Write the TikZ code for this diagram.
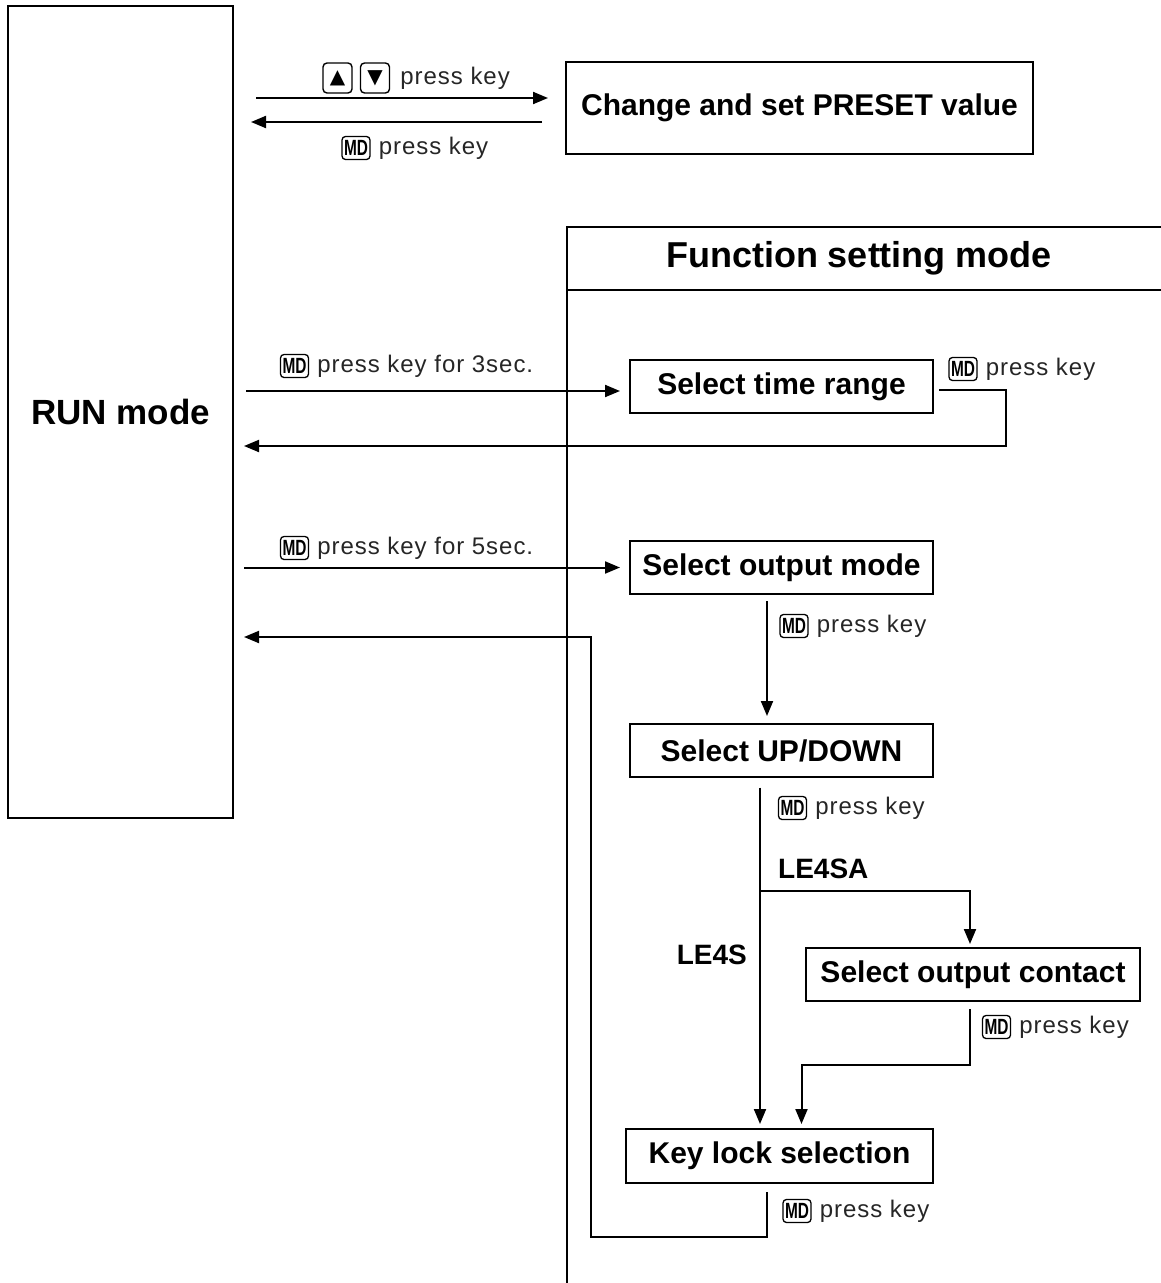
\documentclass[tikz,border=0pt]{standalone}
\usepackage{fontspec}
\setmainfont{Liberation Sans}
\newfontfamily\symfont{DejaVu Sans}
\newfontfamily\notefont[LetterSpace=4]{Liberation Sans}
\usetikzlibrary{arrows.meta,positioning}
\newcommand{\mdtxt}{\scalebox{0.7}[1]{\fontsize{22}{22}\selectfont\bfseries MD}}

\begin{document}
\begin{tikzpicture}[x=1pt,y=-1pt,
  box/.style={draw, line width=2pt, inner sep=0pt, font=\fontsize{30}{36}\selectfont\bfseries},
  note/.style={inner sep=0pt, text=black!85, font=\notefont\fontsize{24}{28}\selectfont},
  tag/.style={inner sep=0pt, font=\fontsize{28}{32}\selectfont\bfseries},
  mdkey/.style={draw, rounded corners=3.5pt, line width=1.3pt, minimum width=28pt, minimum height=23pt, inner sep=0pt},
  arrkey/.style={draw, rounded corners=4pt, line width=1.4pt, minimum width=29pt, minimum height=30pt, inner sep=0pt, font=\symfont\fontsize{20}{20}\selectfont},
  wire/.style={line width=2pt},
  arr/.style={wire, -{Triangle[length=15pt,width=12pt]}}]
\useasboundingbox (0,0) rectangle (1160,1283);

\node[box, minimum width=225pt, minimum height=812pt, font=\fontsize{35}{40}\selectfont\bfseries] (run) at (120.5,412) {RUN mode};
\node[box, minimum width=467pt, minimum height=92pt] (preset) at (799.5,108) {Change and set PRESET value};

\draw[wire] (567,1290) -- (567,227) -- (1165,227);
\draw[wire] (567,290) -- (1165,290);
\node[inner sep=0pt, font=\fontsize{36}{40}\selectfont\bfseries] (fsm) at (859,258) {Function setting mode};

\node[box, minimum width=303pt, minimum height=53pt] (timerange) at (781.5,386.5) {Select time range};
\node[box, minimum width=303pt, minimum height=53pt] (outmode) at (781.5,567.5) {Select output mode};
\node[box, minimum width=303pt, minimum height=53pt] (updown) at (781.5,750.5) {Select UP/DOWN};
\node[box, minimum width=334pt, minimum height=53pt] (contact) at (973,974.5) {Select output contact};
\node[box, minimum width=307pt, minimum height=54pt] (keylock) at (779.5,1156) {Key lock selection};

\draw[arr, shorten <=22pt, shorten >=17pt] ([yshift=10pt]preset.west -| run.east) -- ([yshift=10pt]preset.west);
\draw[arr, shorten <=23pt, shorten >=17pt] ([yshift=-14pt]preset.west) -- ([yshift=-14pt]preset.west -| run.east);

\node[arrkey] (kup) at (337.5,78) {▲};
\node[arrkey] (kdown) at (375,78) {▼};
\node[note, right=10pt of kdown] (n1) {press key};
\node[mdkey] (k2) at (356,148) {\mdtxt};
\node[note, right=8pt of k2] (n2) {press key};

\draw[arr, shorten <=12pt, shorten >=9pt] ([yshift=-4.5pt]timerange.west -| run.east) -- ([yshift=-4.5pt]timerange.west);
\node[mdkey] (k3) at (294.5,366) {\mdtxt};
\node[note, right=8pt of k3] (n3) {press key for 3sec.};
\draw[arr, shorten >=10pt] ([xshift=5pt,yshift=-3.5pt]timerange.east) -- ++(67,0) |- (run.east |- 0,446);
\node[mdkey] (k5) at (963,369) {\mdtxt};
\node[note, right=8pt of k5] (n5) {press key};

\draw[arr, shorten <=10pt, shorten >=9pt] (outmode.west -| run.east) -- (outmode.west);
\node[mdkey] (k4) at (294.5,548) {\mdtxt};
\node[note, right=8pt of k4] (n4) {press key for 5sec.};

\draw[arr, shorten <=6pt, shorten >=7pt] ([xshift=-14.5pt]outmode.south) -- ([xshift=-14.5pt]updown.north);
\node[mdkey] (k6) at (794,626) {\mdtxt};
\node[note, right=8pt of k6] (n6) {press key};

\coordinate (split) at ([xshift=-21.5pt]updown.south |- 0,891);
\draw[arr, shorten <=9.5pt, shorten >=4pt] ([xshift=-21.5pt]updown.south) -- ([xshift=-21.5pt]updown.south |- keylock.north);
\node[mdkey] (k7) at (792.5,808) {\mdtxt};
\node[note, right=8pt of k7] (n7) {press key};
\draw[arr, shorten >=3pt] (split) -| ([xshift=-3pt]contact.north);
\node[tag, anchor=west] (le4sa) at (778,869) {LE4SA};
\node[tag, anchor=east] (le4s) at (747,955) {LE4S};

\draw[arr, shorten >=4pt] ([xshift=-3pt,yshift=-7pt]contact.south) -- ++(0,56) -| ([xshift=22pt]keylock.north);
\node[mdkey] (k8) at (996.5,1027) {\mdtxt};
\node[note, right=8pt of k8] (n8) {press key};

\draw[arr, shorten >=10pt] ([xshift=-12.5pt,yshift=-8pt]keylock.south) -- ++(0,45) -- ++(-176,0) |- (run.east |- 0,637);
\node[mdkey] (k9) at (797,1211) {\mdtxt};
\node[note, right=8pt of k9] (n9) {press key};

\end{tikzpicture}
\end{document}
